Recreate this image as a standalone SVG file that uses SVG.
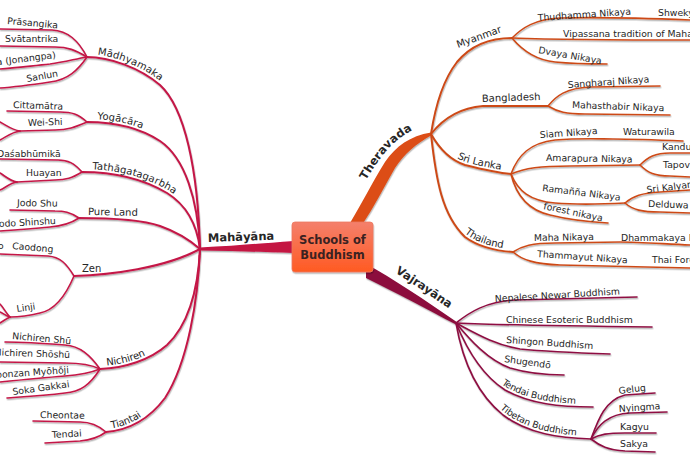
<svg xmlns="http://www.w3.org/2000/svg" width="690" height="460" viewBox="0 0 690 460">
<defs>
<style>
path{fill:none;stroke-linecap:round}
.m{stroke:#c41646}.t{stroke:#cd4a18}.v{stroke:#8e1042}
.s{stroke-width:2}.f{stroke-width:1.6}
text{font-family:"DejaVu Sans","Liberation Sans",sans-serif;fill:#262626}
.lf{font-size:9.3px}.sc{font-size:10px}.mn{font-size:11.5px;font-weight:bold}
.ctr{font-size:11.5px;font-weight:bold;fill:#3a2222;text-anchor:middle}
</style>
<filter id="sh" x="-5%" y="-5%" width="110%" height="110%">
<feDropShadow dx="0.6" dy="1.4" stdDeviation="0.7" flood-color="#000" flood-opacity="0.3"/>
</filter>
<linearGradient id="box" x1="0" y1="0" x2="0" y2="1">
<stop offset="0" stop-color="#f4806c"/>
<stop offset="1" stop-color="#ff5a22"/>
</linearGradient>
<path id="tp-thera" d="M360,195 C368,180 378,163 390,150 C400,139 412,131 428,126"/>
<path id="tp-vajra" d="M369,261 C395,275 428,297 458,319"/>
</defs>
<rect width="690" height="460" fill="#fff"/>
<g id="connectors" filter="url(#sh)">
<!-- trunks -->
<path d="M294,241 C265,243 235,246 200,247.5 L200,250.5 C235,251 265,252 294,253 Z" style="fill:#c41242;stroke:none"/>
<path d="M350,223 C362,203 372,183 385,162 C396,146 410,136 431,132.5 L431,135.5 C416,144 404,154 395,168 C384,187 374,207 362,225 Z" style="fill:#dc4e18;stroke:none"/>
<path d="M366,264 C392,278 425,300 456,321.5 L456,324.5 C428,310 395,292 366,278 Z" style="fill:#8c0e3c;stroke:none"/>
<!-- Mahayana secondary -->
<path id="p-madh" class="m s" d="M87,57 C110,57 140,68 160,85 C185,108 198,170 200,249"/>
<path id="p-yoga" class="m s" d="M87,122 C115,122 140,128 160,141 C185,158 198,200 200,249"/>
<path id="p-tath" class="m s" d="M82,172 C115,172 145,180 167,193 C188,206 197,225 200,249"/>
<path class="m s" d="M79,218 C110,218 140,219 160,226 C180,233 192,242 200,249"/>
<path class="m s" d="M74,276 C110,275 165,268 200,249"/>
<path id="p-nich" class="m s" d="M100,369 C125,368 150,360 167,345 C188,325 198,290 200,249"/>
<path id="p-tian" class="m s" d="M106,432 C130,430 150,418 165,398 C188,362 198,300 200,249"/>
<!-- Mahayana leaves -->
<path class="m f" d="M87,57 C78,40 68,31 52,30 L0,29"/>
<path class="m f" d="M87,57 C75,50 68,47 55,47 L0,46"/>
<path class="m f" d="M87,57 C75,59 65,62 50,64 C30,66 15,68 0,69"/>
<path class="m f" d="M87,57 C78,70 68,80 50,82 C30,85 15,87 0,88"/>
<path class="m f" d="M87,122 C78,114 72,112 60,112 L7,111"/>
<path class="m f" d="M87,122 C75,127 68,130 55,130 L20,131"/>
<path class="m f" d="M20,131 C12,130 6,125 0,122"/>
<path class="m f" d="M20,131 C12,132 6,137 0,140"/>
<path class="m f" d="M82,172 C74,163 68,160 58,160 L0,159"/>
<path class="m f" d="M82,172 C72,178 66,180 55,180 L17,182"/>
<path class="m f" d="M17,182 C10,181 5,176 0,173"/>
<path class="m f" d="M17,182 C10,183 5,188 0,190"/>
<path class="m f" d="M79,218 C70,212 64,211 55,211 L10,210"/>
<path class="m f" d="M79,218 C70,224 62,226 50,227 C30,229 15,230 0,231"/>
<path class="m f" d="M74,276 C66,263 60,257 48,256 L0,254"/>
<path class="m f" d="M74,276 C66,295 55,310 40,313 C28,316 18,317 10,317"/>
<path class="m f" d="M10,317 C6,313 3,307 0,304"/>
<path class="m f" d="M10,317 C6,316 3,313 0,312"/>
<path class="m f" d="M10,317 C6,319 3,321 0,323"/>
<path class="m f" d="M100,369 C90,355 80,346 65,345 C40,343 20,342 5,342"/>
<path class="m f" d="M100,369 C90,364 80,363 65,363 L0,362"/>
<path class="m f" d="M100,369 C90,373 80,375 65,376 C40,378 20,380 0,382"/>
<path class="m f" d="M100,369 C90,385 80,392 65,393 C40,396 20,397 7,398"/>
<path class="m f" d="M106,432 C98,425 90,422 80,422 L33,421"/>
<path class="m f" d="M106,432 C98,438 90,440 80,441 L45,443"/>
<!-- Theravada secondary -->
<path class="t s" d="M431,134 C435,108 443,80 457,62 C472,44 492,38 512,38"/>
<path class="t s" d="M431,134 C442,120 458,108 483,106 L548,106"/>
<path id="p-sril" class="t s" d="M431,134 C440,150 450,160 465,165 C485,170 500,173 511,174"/>
<path id="p-thai" class="t s" d="M431,134 C436,180 442,215 465,237 C480,248 498,251 513,252"/>
<!-- Theravada leaves -->
<path class="t f" d="M512,38 C522,28 535,19 560,18 C600,17 640,18 690,20"/>
<path class="t f" d="M512,38 C540,39 600,40 690,40"/>
<path class="t f" d="M512,38 C522,50 535,60 555,62 C575,64 595,64 607,64"/>
<path class="t f" d="M548,106 C556,96 566,88 590,87 L660,86"/>
<path class="t f" d="M548,106 C558,112 566,114 585,114 L670,115"/>
<path class="t f" d="M511,174 C518,155 530,143 555,140 C580,138 600,139 613,139 C630,139 660,140 683,141"/>
<path class="t f" d="M511,174 C525,168 540,166 570,166 L640,165"/>
<path class="t f" d="M640,165 C648,157 655,153 670,153 L690,153"/>
<path class="t f" d="M640,165 C648,173 655,176 670,176 L690,177"/>
<path class="t f" d="M511,174 C518,191 530,201 555,203 C580,205 605,204 625,203"/>
<path class="t f" d="M625,203 C633,196 642,193 660,192 L690,190"/>
<path class="t f" d="M625,203 C633,210 642,212 660,212 L690,213"/>
<path class="t f" d="M511,174 C516,195 528,210 550,215 C570,220 590,222 608,223"/>
<path class="t f" d="M513,252 C522,246 532,243 555,243 L620,242 C640,242 665,244 690,245"/>
<path class="t f" d="M513,252 C522,260 535,264 560,265 L690,268"/>
<!-- Vajrayana leaves -->
<path class="v f" d="M456,323 C470,312 485,302 515,300 L637,297"/>
<path class="v f" d="M456,323 C500,325 560,326 652,327"/>
<path class="v f" d="M456,323 C475,333 495,345 520,349 C550,352 580,353 610,354"/>
<path class="v f" d="M456,323 C470,340 488,360 510,368 C530,374 550,375 564,375"/>
<path id="p-tend" class="v f" d="M456,323 C465,345 480,374 505,390 C530,404 560,407 593,407"/>
<path id="p-tibe" class="v f" d="M456,323 C462,358 476,393 503,415 C528,434 560,438 591,439"/>
<path class="v f" d="M591,439 C598,420 605,400 625,395 L655,393"/>
<path class="v f" d="M591,439 C598,425 608,414 630,413 L667,412"/>
<path class="v f" d="M591,439 C600,434 608,433 625,433 L656,433"/>
<path class="v f" d="M591,439 C600,446 608,450 625,451 L655,452"/>
</g>
<g id="root">
<rect x="292" y="222" width="81" height="50" rx="3" fill="url(#box)" stroke="#ec7a60" stroke-width="0.8" filter="url(#sh)"/>
<text class="ctr" x="332.5" y="244">Schools of</text>
<text class="ctr" x="332.5" y="259">Buddhism</text>
</g>
<g id="mahayana"><text class="mn" x="208" y="242" transform="rotate(-2 208 242)">Mahāyāna</text></g>
<g id="theravada"><text class="mn" dy="-2" text-anchor="middle"><textPath href="#tp-thera" startOffset="50%">Theravada</textPath></text></g>
<g id="vajrayana"><text class="mn" dy="-3" text-anchor="middle"><textPath href="#tp-vajra" startOffset="57%">Vajrayāna</textPath></text></g>
<!-- Mahayana schools -->
<g id="madhyamaka"><text class="sc" dy="-3"><textPath href="#p-madh" startOffset="10">Mādhyamaka</textPath></text></g>
<g id="prasangika"><text class="lf" x="7" y="24" transform="rotate(5 7 24)">Prāsangika</text></g>
<g id="svatantrika"><text class="lf" x="5" y="42">Svātantrika</text></g>
<g id="jonangpa"><text class="lf" x="56" y="58" text-anchor="end" transform="rotate(-7 56 58)">a (Jonangpa)</text></g>
<g id="sanlun"><text class="lf" x="27" y="82" transform="rotate(-10 27 82)">Sanlun</text></g>
<g id="yogacara"><text class="sc" dy="-3"><textPath href="#p-yoga" startOffset="10">Yogācāra</textPath></text></g>
<g id="cittamatra"><text class="lf" x="13" y="108" transform="rotate(2 13 108)">Cittamātra</text></g>
<g id="weishi"><text class="lf" x="28" y="126" transform="rotate(-2 28 126)">Wei-Shi</text></g>
<g id="tathagatagarbha"><text class="sc" dy="-3"><textPath href="#p-tath" startOffset="10">Tathāgatagarbha</textPath></text></g>
<g id="dasabhumika"><text class="lf" x="-3" y="157">Daśabhūmikā</text></g>
<g id="huayan"><text class="lf" x="26" y="176">Huayan</text></g>
<g id="pureland"><text class="sc" x="88" y="215" transform="rotate(1 88 215)">Pure Land</text></g>
<g id="jodoshu"><text class="lf" x="17" y="206" transform="rotate(1 17 206)">Jodo Shu</text></g>
<g id="jodoshinshu"><text class="lf" x="56" y="224" text-anchor="end" transform="rotate(-3 56 224)">Jodo Shinshu</text></g>
<g id="zen"><text class="sc" x="82" y="272">Zen</text></g>
<g id="soto"><text class="lf" x="-2" y="249">o</text></g>
<g id="caodong"><text class="lf" x="12" y="249" transform="rotate(5 12 249)">Caodong</text></g>
<g id="linji"><text class="lf" x="17" y="312" transform="rotate(-8 17 312)">Linji</text></g>
<g id="nichiren"><text class="sc" dy="-3"><textPath href="#p-nich" startOffset="7">Nichiren</textPath></text></g>
<g id="nichirenshu"><text class="lf" x="12" y="339" transform="rotate(5 12 339)">Nichiren Shū</text></g>
<g id="nichirenshoshu"><text class="lf" x="70" y="358" text-anchor="end" transform="rotate(2 70 358)">Nichiren Shōshū</text></g>
<g id="nipponzan"><text class="lf" x="69" y="373" text-anchor="end" transform="rotate(-4 69 373)">Nipponzan Myōhōji</text></g>
<g id="sokagakkai"><text class="lf" x="13" y="395" transform="rotate(-8 13 395)">Soka Gakkai</text></g>
<g id="tiantai"><text class="sc" dy="-3"><textPath href="#p-tian" startOffset="6">Tiantai</textPath></text></g>
<g id="cheontae"><text class="lf" x="40" y="418" transform="rotate(1 40 418)">Cheontae</text></g>
<g id="tendai-m"><text class="lf" x="52" y="438" transform="rotate(-3 52 438)">Tendai</text></g>
<!-- Theravada -->
<g id="myanmar"><text class="sc" x="458" y="48" transform="rotate(-20 458 48)">Myanmar</text></g>
<g id="thudhamma"><text class="lf" x="538" y="21" transform="rotate(-4 538 21)">Thudhamma Nikaya</text></g>
<g id="shwekyin"><text class="lf" x="658" y="16">Shwekyin</text></g>
<g id="vipassana"><text class="lf" x="563" y="37">Vipassana tradition of Mahasi</text></g>
<g id="dvaya"><text class="lf" x="538" y="53" transform="rotate(10 538 53)">Dvaya Nikaya</text></g>
<g id="bangladesh"><text class="sc" x="482" y="102" transform="rotate(-2 482 102)">Bangladesh</text></g>
<g id="sangharaj"><text class="lf" x="568" y="88" transform="rotate(-4 568 88)">Sangharaj Nikaya</text></g>
<g id="mahasthabir"><text class="lf" x="572" y="108" transform="rotate(2 572 108)">Mahasthabir Nikaya</text></g>
<g id="srilanka"><text class="sc" dy="-3"><textPath href="#p-sril" startOffset="37">Sri Lanka</textPath></text></g>
<g id="siam"><text class="lf" x="540" y="138" transform="rotate(-4 540 138)">Siam Nikaya</text></g>
<g id="waturawila"><text class="lf" x="623" y="135">Waturawila</text></g>
<g id="amarapura"><text class="lf" x="546" y="161" transform="rotate(1 546 161)">Amarapura Nikaya</text></g>
<g id="kanduboda"><text class="lf" x="662" y="150">Kanduboda</text></g>
<g id="tapovana"><text class="lf" x="663" y="168">Tapovana</text></g>
<g id="ramanna"><text class="lf" x="542" y="191" transform="rotate(7 542 191)">Ramañña Nikaya</text></g>
<g id="srikalyani"><text class="lf" x="647" y="193" transform="rotate(-7 647 193)">Sri Kalyani</text></g>
<g id="delduwa"><text class="lf" x="648" y="207" transform="rotate(2 648 207)">Delduwa</text></g>
<g id="forest"><text class="lf" x="543" y="209" transform="rotate(12 543 209)">forest nikaya</text></g>
<g id="thailand"><text class="sc" dy="-3"><textPath href="#p-thai" startOffset="108">Thailand</textPath></text></g>
<g id="mahanikaya"><text class="lf" x="534" y="241" transform="rotate(-1 534 241)">Maha Nikaya</text></g>
<g id="dhammakaya"><text class="lf" x="621" y="241">Dhammakaya Movement</text></g>
<g id="thammayut"><text class="lf" x="537" y="257" transform="rotate(4 537 257)">Thammayut Nikaya</text></g>
<g id="thaiforest"><text class="lf" x="652" y="263">Thai Forest Tradition</text></g>
<!-- Vajrayana -->
<g id="nepalese"><text class="lf" x="495" y="302" transform="rotate(-3.5 495 302)">Nepalese Newar Buddhism</text></g>
<g id="chinese"><text class="lf" x="506" y="323">Chinese Esoteric Buddhism</text></g>
<g id="shingon"><text class="lf" x="506" y="343" transform="rotate(4 506 343)">Shingon Buddhism</text></g>
<g id="shugendo"><text class="lf" x="504" y="362" transform="rotate(8 504 362)">Shugendō</text></g>
<g id="tendai-v"><text class="lf" dy="-3"><textPath href="#p-tend" startOffset="78">Tendai Buddhism</textPath></text></g>
<g id="tibetan"><text class="lf" dy="-3"><textPath href="#p-tibe" startOffset="99">Tibetan Buddhism</textPath></text></g>
<g id="gelug"><text class="lf" x="619" y="394" transform="rotate(-7 619 394)">Gelug</text></g>
<g id="nyingma"><text class="lf" x="619" y="412" transform="rotate(-4 619 412)">Nyingma</text></g>
<g id="kagyu"><text class="lf" x="620" y="430">Kagyu</text></g>
<g id="sakya"><text class="lf" x="620" y="447">Sakya</text></g>
</svg>
